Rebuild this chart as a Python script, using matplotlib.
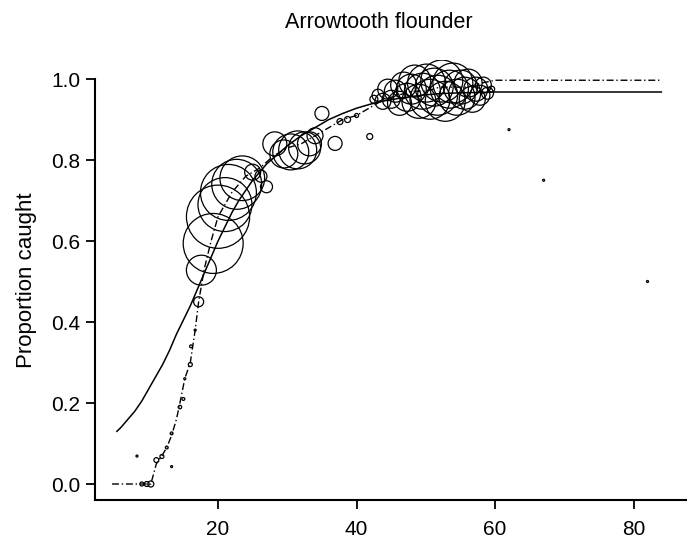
import matplotlib
matplotlib.use("Agg")
import matplotlib.pyplot as plt

# observed proportions: length, proportion caught, number of fish
obs_len = [9.0, 9.7, 10.3, 8.3, 11.1, 11.9, 12.6, 13.3, 13.3, 14.5, 15.0, 15.2,
           16.0, 16.1, 16.7, 17.2, 17.6, 19.3, 20.0, 21.0, 21.5, 22.7, 23.5,
           25.0, 26.2, 27.0, 28.2, 29.5, 30.5, 31.5, 32.5, 33.2, 34.0,
           35.0, 36.9, 37.6, 38.7, 40.0, 41.9, 42.5,
           43.1, 43.8, 44.5, 45.0, 45.6, 46.2, 46.8, 47.3, 47.9, 48.4, 49.0,
           49.5, 50.1, 50.6, 51.2, 51.7, 52.3, 52.8, 53.4, 53.9, 54.5, 55.0,
           55.6, 56.1, 56.7, 57.2, 57.8, 58.3, 58.9, 59.5, 62.0, 67.0, 82.0]
obs_prop = [0.0, 0.0, 0.0, 0.069, 0.059, 0.068, 0.09, 0.043, 0.125, 0.19, 0.21, 0.26,
            0.295, 0.34, 0.38, 0.45, 0.528, 0.594, 0.66, 0.69, 0.72, 0.74, 0.755,
            0.77, 0.76, 0.734, 0.84, 0.815, 0.82, 0.825, 0.83, 0.84, 0.86,
            0.915, 0.841, 0.895, 0.90, 0.91, 0.858, 0.95,
            0.96, 0.945, 0.975, 0.95, 0.97, 0.94, 0.985, 0.955, 0.975, 0.995, 0.945,
            0.97, 0.99, 0.95, 0.98, 0.96, 0.995, 0.945, 0.975, 0.99, 0.955, 0.98,
            0.965, 0.99, 0.95, 0.975, 0.96, 0.985, 0.965, 0.975, 0.875, 0.75, 0.50]
obs_n = [4, 6, 9, 1, 6, 4, 2, 1, 2, 3, 2, 1,
         4, 2, 1, 25, 225, 900, 1000, 729, 784, 625, 500,
         64, 36, 36, 144, 196, 324, 361, 256, 144, 64,
         49, 49, 9, 9, 4, 9, 16,
         36, 64, 100, 81, 121, 144, 169, 196, 225, 256, 289,
         324, 361, 400, 361, 400, 441, 400, 361, 400, 324, 289,
         256, 196, 169, 144, 100, 64, 36, 9, 1, 1, 1]

# fitted selectivity curve (solid)
fit_len = [5.4, 6, 7, 8, 9, 10, 11, 12, 13, 14, 15, 16, 17, 18, 19, 20, 21, 22,
           23, 24, 25, 26, 27, 28, 30, 32, 34, 36, 38, 40, 42, 44, 46, 48, 50,
           52, 55, 58, 60, 84]
fit_prop = [0.13, 0.14, 0.16, 0.18, 0.205, 0.235, 0.265, 0.295, 0.33, 0.37, 0.405,
            0.44, 0.48, 0.52, 0.56, 0.60, 0.635, 0.67, 0.70, 0.725, 0.75, 0.77,
            0.79, 0.805, 0.835, 0.86, 0.88, 0.90, 0.915, 0.928, 0.938, 0.946,
            0.952, 0.957, 0.961, 0.964, 0.966, 0.967, 0.968, 0.968]

# nonparametric curve (dash-dot)
np_len = [4.7, 9.0, 10.3, 11.1, 11.9, 12.6, 13.3, 14.0, 14.5, 15.2, 16.0, 16.7,
          17.2, 18.0, 19.0, 20.0, 22.0, 24.0, 26.0, 28.0, 30.0, 32.0, 34.0, 36.0,
          38.0, 40.0, 42.0, 44.0, 46.0, 48.0, 50.0, 52.0, 54.0, 56.0, 58.0, 60.0, 84.0]
np_prop = [0.0, 0.0, 0.0, 0.05, 0.07, 0.09, 0.12, 0.16, 0.20, 0.26, 0.30, 0.38,
           0.45, 0.53, 0.60, 0.66, 0.72, 0.76, 0.78, 0.81, 0.83, 0.84, 0.86, 0.88,
           0.90, 0.91, 0.93, 0.95, 0.96, 0.97, 0.97, 0.98, 0.98, 0.98, 0.99, 0.997, 0.997]

plt.rcParams["font.family"] = ["Liberation Sans", "DejaVu Sans"]

fig = plt.figure(figsize=(6.87, 5.4), dpi=100)
ax = fig.add_axes([95 / 687, 40 / 540, 592 / 687, 440 / 540])

# circle radius in pixels ~ sqrt(n)
sizes = [2.07 * n for n in obs_n]
ax.scatter(obs_len, obs_prop, s=sizes, facecolors="none", edgecolors="black",
           linewidths=0.9, zorder=3)
ax.plot(fit_len, fit_prop, color="black", lw=1.1, zorder=2)
ax.plot(np_len, np_prop, color="black", lw=1.0, linestyle=(0, (5, 2, 1, 2)), zorder=2)

ax.set_xlim(2.24, 87.7)
ax.set_ylim(-0.0395, 1.047)
ax.set_xticks([20, 40, 60, 80])
ax.set_yticks([0.0, 0.2, 0.4, 0.6, 0.8, 1.0])
ax.set_yticklabels(["0.0", "0.2", "0.4", "0.6", "0.8", "1.0"])

for side in ["top", "right"]:
    ax.spines[side].set_visible(False)
for side in ["left", "bottom"]:
    ax.spines[side].set_linewidth(1.5)
ax.spines["left"].set_bounds(-0.0395, 1.0)

ax.tick_params(axis="both", direction="out", length=6.5, width=1.3, labelsize=15)
ax.tick_params(axis="y", pad=4)
ax.tick_params(axis="x", pad=8)

ax.set_ylabel("Proportion caught", fontsize=16, labelpad=10)
fig.text(379 / 687, 1 - 22 / 540, "Arrowtooth flounder", ha="center", va="center",
         fontsize=15.5)

plt.savefig("out.png", dpi=100)
